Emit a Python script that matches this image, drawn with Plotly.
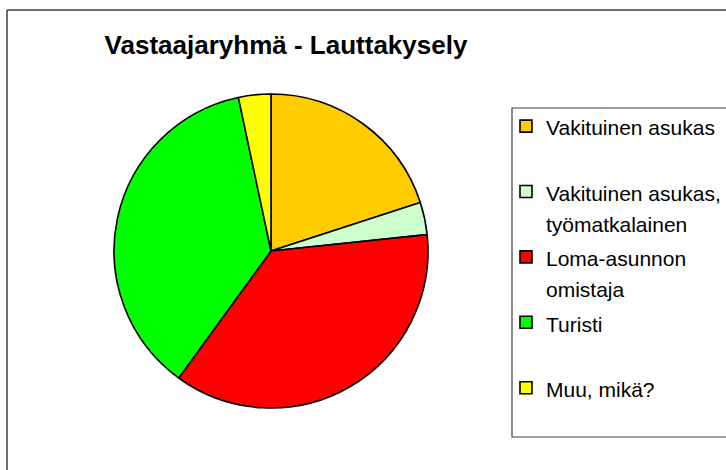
import plotly.graph_objects as go

# Data
categories = ["Vakituinen asukas", "Vakituinen asukas,<br>työmatkalainen",
              "Loma-asunnon<br>omistaja", "Turisti", "Muu, mikä?"]
counts = [6, 1, 11, 11, 1]
colors = ["#FFCC00", "#CCFFCC", "#FF0000", "#00FF00", "#FFFF00"]
title_text = "Vastaajaryhmä - Lauttakysely"

W, H = 726, 470
FONT = "Liberation Sans, Arial, sans-serif"

def px_x(x):
    return x / W

def px_y(y):
    return 1 - y / H

# pad single-line legend labels to two lines so every entry has equal height
legend_labels = []
for c in categories:
    lbl = c if "<br>" in c else c + "<br>\u00a0"
    legend_labels.append('<span style="font-size:21px">' + lbl + "</span>")

cx, cy, r = 271, 251, 157

fig = go.Figure(go.Pie(
    labels=legend_labels,
    values=counts,
    marker=dict(colors=colors, line=dict(color="black", width=1.6)),
    sort=False,
    direction="clockwise",
    rotation=0,
    textinfo="none",
    hoverinfo="none",
    domain=dict(x=[px_x(cx - r), px_x(cx + r)], y=[px_y(cy + r), px_y(cy - r)]),
))

shapes = [
    # outer chart border (left + top)
    dict(type="line", xref="paper", yref="paper", x0=px_x(7), y0=px_y(10), x1=1.02, y1=px_y(10),
         line=dict(color="#404040", width=1.5)),
    dict(type="line", xref="paper", yref="paper", x0=px_x(7), y0=px_y(10), x1=px_x(7), y1=-0.02,
         line=dict(color="#404040", width=1.5)),
    # legend box
    dict(type="rect", xref="paper", yref="paper", x0=px_x(512), y0=px_y(437), x1=1.05, y1=px_y(108),
         line=dict(color="#404040", width=1.2), fillcolor="rgba(0,0,0,0)"),
]

fig.update_layout(
    width=W, height=H,
    margin=dict(l=0, r=0, t=0, b=0),
    paper_bgcolor="white",
    plot_bgcolor="white",
    font=dict(family=FONT, color="black"),
    title=dict(text="<b>" + title_text + "</b>", x=px_x(286), xanchor="center",
               y=px_y(45), yanchor="middle", yref="container",
               font=dict(family=FONT, size=26, color="black")),
    showlegend=True,
    legend=dict(x=px_x(506), xanchor="left", y=px_y(104), yanchor="top",
                font=dict(family=FONT, size=24, color="black"),
                valign="top", bgcolor="rgba(0,0,0,0)", borderwidth=0,
                traceorder="normal"),
    shapes=shapes,
)

fig.write_html(
    "out.html",
    config={"displayModeBar": False},
    post_script="document.body.style.margin='0';document.body.style.padding='0';"
                "document.body.style.overflow='hidden';",
)
